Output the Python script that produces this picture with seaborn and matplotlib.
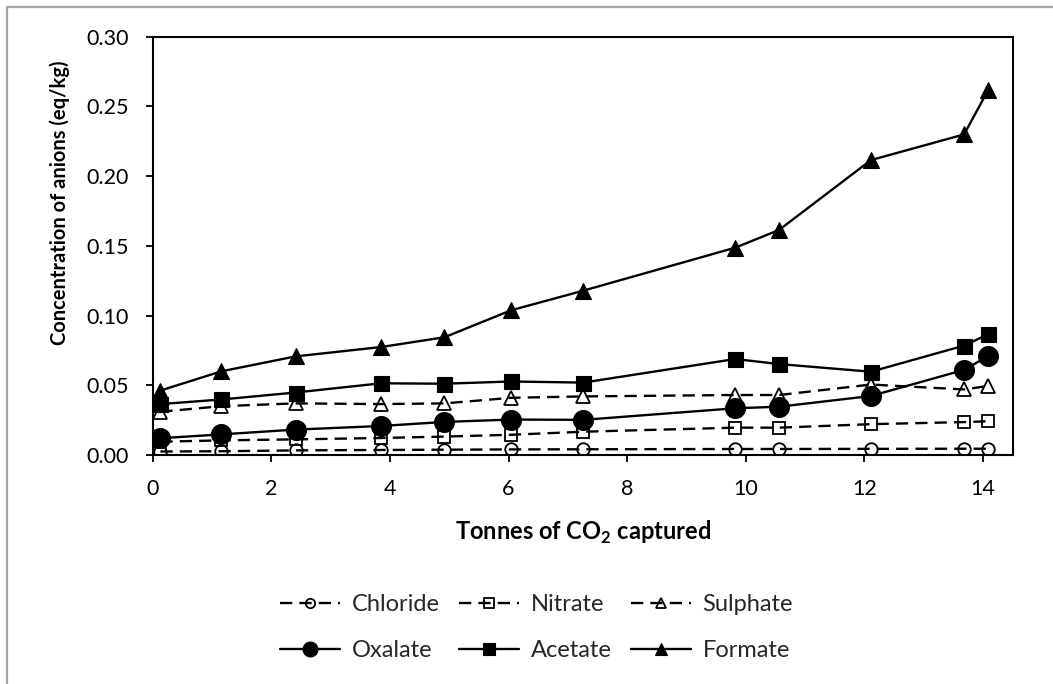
import matplotlib
matplotlib.use("Agg")
import matplotlib.pyplot as plt
from matplotlib.lines import Line2D
import seaborn as sns

# Cumulative CO2 captured (tonnes) at each sampling point
tonnes = [0.13, 1.16, 2.41, 3.85, 4.92, 6.04, 7.26, 9.82, 10.56, 12.11, 13.68, 14.09]

# Anion concentrations (eq/kg)
chloride = [0.0025, 0.0027, 0.0033, 0.0036, 0.0038, 0.0040, 0.0041, 0.0043, 0.0043, 0.0044, 0.0045, 0.0045]
nitrate = [0.0095, 0.0105, 0.0112, 0.0122, 0.0132, 0.0145, 0.0167, 0.0196, 0.0196, 0.0221, 0.0236, 0.0242]
sulphate = [0.0310, 0.0350, 0.0370, 0.0365, 0.0370, 0.0410, 0.0420, 0.0430, 0.0430, 0.0505, 0.0470, 0.0495]
oxalate = [0.0120, 0.0148, 0.0182, 0.0208, 0.0237, 0.0254, 0.0252, 0.0335, 0.0346, 0.0423, 0.0610, 0.0710]
acetate = [0.0365, 0.0398, 0.0448, 0.0514, 0.0511, 0.0527, 0.0519, 0.0688, 0.0652, 0.0597, 0.0784, 0.0866]
formate = [0.0462, 0.0600, 0.0707, 0.0774, 0.0844, 0.1037, 0.1178, 0.1486, 0.1613, 0.2114, 0.2298, 0.2618]

x_ticks = [0, 2, 4, 6, 8, 10, 12, 14]
y_ticks = [0.00, 0.05, 0.10, 0.15, 0.20, 0.25, 0.30]

sns.set_theme(style="ticks")
plt.rcParams["font.family"] = ["Lato", "DejaVu Sans"]
plt.rcParams["mathtext.fontset"] = "custom"
plt.rcParams["mathtext.rm"] = "Lato"
plt.rcParams["mathtext.bf"] = "Lato:bold"

W, H = 1053, 684
fig = plt.figure(figsize=(W / 100, H / 100), dpi=100)
fig.patch.set_facecolor("white")
ax = fig.add_axes([0.145, 0.3348, 0.8167, 0.6118])
ax.set_facecolor("white")

dashed = (0, (5.2, 3.0))
open_mk = dict(markerfacecolor="none", markeredgecolor="black", markeredgewidth=1.3)
filled_mk = dict(markerfacecolor="black", markeredgecolor="black", markeredgewidth=0.8)

series = [
    ("Chloride", chloride, "o", 9.0, dashed, open_mk),
    ("Nitrate", nitrate, "s", 9.3, dashed, open_mk),
    ("Sulphate", sulphate, "^", 10.3, dashed, open_mk),
    ("Oxalate", oxalate, "o", 14.3, "-", filled_mk),
    ("Acetate", acetate, "s", 10.8, "-", filled_mk),
    ("Formate", formate, "^", 11.3, "-", filled_mk),
]

for name, vals, mk, ms, ls, mkstyle in series:
    sns.lineplot(x=tonnes, y=vals, ax=ax, color="black", linewidth=1.7,
                 linestyle=ls, marker=mk, markersize=ms, label=name,
                 legend=False, **mkstyle)

ax.set_xlim(0, 14.5)
ax.set_ylim(0, 0.30)
ax.set_xticks(x_ticks)
ax.set_xticklabels([str(t) for t in x_ticks])
ax.set_yticks(y_ticks)
ax.set_yticklabels([f"{t:.2f}" for t in y_ticks])

for side in ["left", "right", "top", "bottom"]:
    ax.spines[side].set_visible(True)
    ax.spines[side].set_color("black")
    ax.spines[side].set_linewidth(1.5)

ax.tick_params(axis="both", direction="out", length=5, width=1.3,
               color="black", labelcolor="black", labelsize=15.5)
ax.tick_params(axis="x", pad=12)
ax.tick_params(axis="y", pad=12)
ax.tick_params(right=False, top=False)

ax.set_xlabel("")
ax.set_ylabel("")
# Axis titles placed in figure pixel coordinates
fig.text(582.7 / W, 1 - 532 / H, r"Tonnes of CO$_\mathbf{2}$ captured",
         fontsize=17, fontweight="bold", color="black",
         ha="center", va="center")
fig.text(60 / W, 1 - 203 / H, "Concentration of anions (eq/kg)",
         fontsize=14.5, fontweight="bold", color="black",
         rotation=90, rotation_mode="anchor", ha="center", va="center")

leg_obj = ax.get_legend()
if leg_obj is not None:
    leg_obj.remove()

# Legend fills column by column; order entries so rows read left to right
handles, labels = ax.get_legend_handles_labels()
order = [0, 3, 1, 4, 2, 5]
fig.legend([handles[i] for i in order], [labels[i] for i in order],
           ncol=3, loc="center",
           bbox_to_anchor=(536.5 / W, 1 - 627.5 / H),
           frameon=False, fontsize=17, markerscale=0.75,
           handlelength=2.55, handletextpad=0.5, columnspacing=0.8,
           labelspacing=1.05, borderpad=0, borderaxespad=0)

# Thin grey frame along the top and left of the figure
fig.add_artist(Line2D([7 / W, 7 / W, 1.0], [0.0, 1 - 7 / H, 1 - 7 / H],
                      transform=fig.transFigure, color="#a6a6a6", linewidth=1.6))

fig.savefig("out.png", dpi=100, facecolor="white")
